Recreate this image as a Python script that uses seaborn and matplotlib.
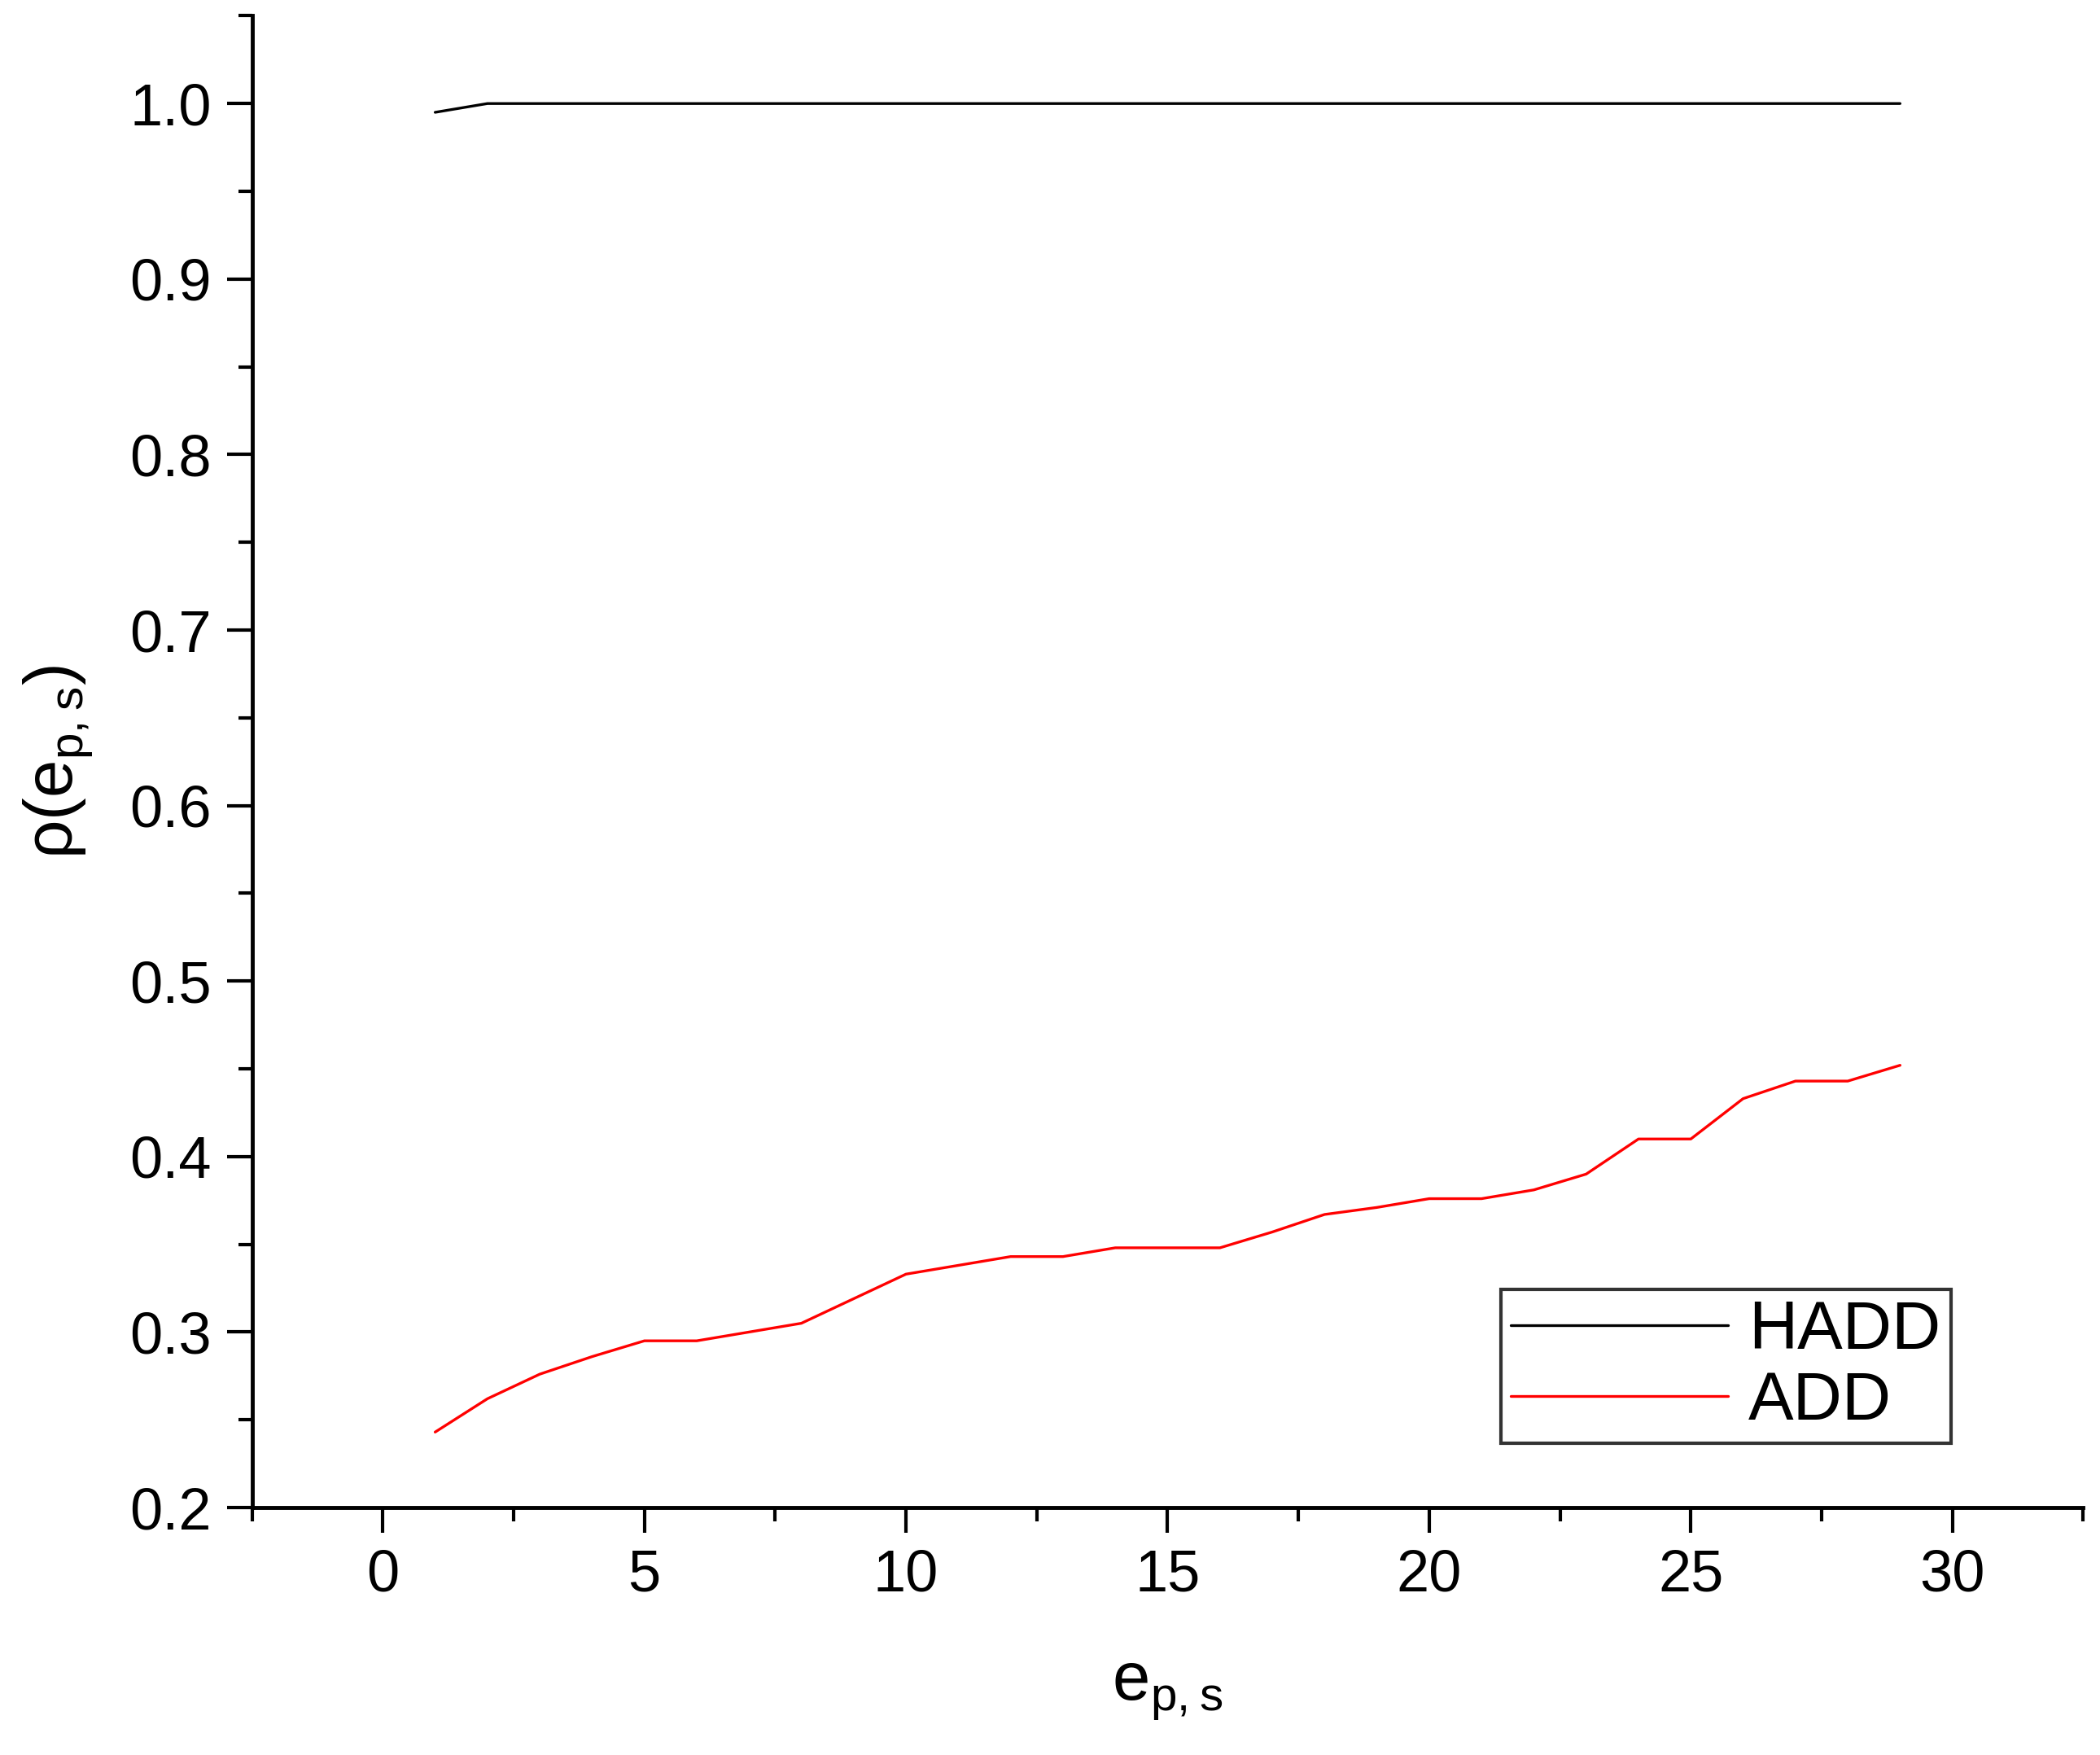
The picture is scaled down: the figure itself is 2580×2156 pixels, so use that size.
import numpy as np
import pandas as pd
import seaborn as sns
import matplotlib.pyplot as plt
from matplotlib.ticker import MultipleLocator

# values
eps = list(range(1, 30))
hadd = [0.995] + [1.0] * 28
add = [0.243, 0.262, 0.276, 0.286, 0.295, 0.295, 0.300, 0.305, 0.319, 0.333,
       0.338, 0.343, 0.343, 0.348, 0.348, 0.348, 0.357, 0.367, 0.371, 0.376,
       0.376, 0.381, 0.390, 0.410, 0.410, 0.433, 0.443, 0.443, 0.452]

df = pd.DataFrame({'e': eps + eps, 'rho': hadd + add,
                   'method': ['HADD'] * len(eps) + ['ADD'] * len(eps)})

sns.set_style('ticks')
plt.rcParams['font.family'] = ['Liberation Sans', 'DejaVu Sans']
plt.rcParams['text.color'] = 'black'
plt.rcParams['axes.labelcolor'] = 'black'
plt.rcParams['xtick.color'] = 'black'
plt.rcParams['ytick.color'] = 'black'
plt.rcParams['axes.edgecolor'] = 'black'

fig = plt.figure(figsize=(25.8, 21.56), dpi=100)
ax = fig.add_axes([0.12, 0.141, 0.872, 0.85])

sns.lineplot(data=df, x='e', y='rho', hue='method',
             palette={'HADD': 'black', 'ADD': 'red'}, linewidth=2.4, ax=ax)

ax.set_xlim(-2.5, 32.5)
ax.set_ylim(0.2, 1.05)
ax.xaxis.set_major_locator(MultipleLocator(5))
ax.xaxis.set_minor_locator(MultipleLocator(2.5))
ax.yaxis.set_minor_locator(MultipleLocator(0.05))
ax.set_yticks(np.arange(0.2, 1.01, 0.1))
ax.set_yticklabels([f'{v:.1f}' for v in np.arange(0.2, 1.01, 0.1)])

ax.tick_params(which='major', length=22, width=3, labelsize=52, direction='out', pad=14)
ax.tick_params(which='minor', length=12, width=3, direction='out')
for s in ['left', 'bottom']:
    ax.spines[s].set_linewidth(3.5)
sns.despine(ax=ax)

ax.set_xlabel(r'e$_{\mathregular{p,s}}$', fontsize=60, labelpad=50)
ax.set_ylabel(r'$\mathregular{\rho}$(e$_{\mathregular{p,s}}$)', fontsize=60, labelpad=30)

leg = ax.legend(title=None, loc='lower left', bbox_to_anchor=(0.682, 0.043),
                fontsize=60, fancybox=False, framealpha=1, edgecolor='#333333',
                handlelength=3.2, handletextpad=0.3, borderpad=0.15,
                labelspacing=0.1, borderaxespad=0)
leg.get_frame().set_linewidth(3)

fig.savefig('out.png', dpi=100)
